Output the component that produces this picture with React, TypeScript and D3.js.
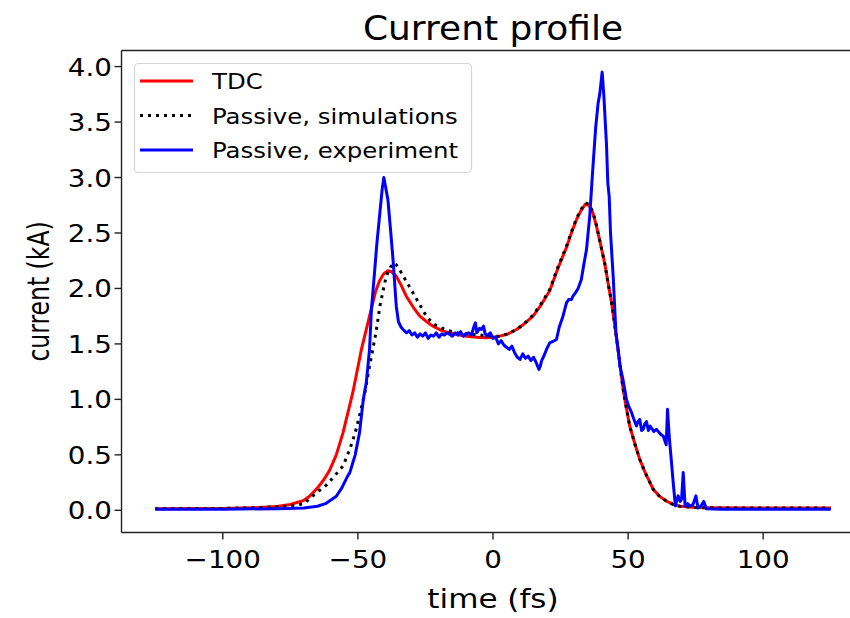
import React from 'react';
import {scaleLinear, line} from 'd3';

// TDC reconstruction
const tdcTime = [-125, -100, -90, -80, -75, -70, -67.9, -65, -62.5, -60.5, -58, -55.5, -53, -51.9, -48.7, -45.7, -43.5, -42, -40.5, -38.9, -37.5, -35.8, -34, -32.1, -29.5, -27.1, -24.5, -22.2, -19, -16, -12.5, -9.9, -6, -2.4, 0, 2.5, 5.5, 8.7, 11.5, 14.8, 17.5, 21, 24, 27.2, 29, 30.9, 32.5, 34.2, 35.5, 37, 38.3, 39.8, 41.4, 42.6, 43.9, 45, 46.3, 48.1, 49.3, 50.6, 52.5, 54.3, 56.5, 59.3, 61.5, 64.2, 66.5, 69.1, 75, 81.5, 100, 125];
const tdcCurrent = [0.015, 0.017, 0.022, 0.035, 0.052, 0.09, 0.127, 0.2, 0.28, 0.36, 0.5, 0.7, 0.95, 1.06, 1.45, 1.75, 1.97, 2.07, 2.13, 2.16, 2.15, 2.11, 2.03, 1.93, 1.83, 1.75, 1.7, 1.66, 1.62, 1.6, 1.58, 1.57, 1.56, 1.555, 1.56, 1.57, 1.59, 1.63, 1.68, 1.75, 1.84, 1.98, 2.18, 2.37, 2.5, 2.62, 2.7, 2.76, 2.75, 2.68, 2.56, 2.4, 2.22, 2.05, 1.87, 1.68, 1.45, 1.1, 0.93, 0.76, 0.6, 0.46, 0.33, 0.19, 0.13, 0.082, 0.055, 0.037, 0.025, 0.022, 0.02, 0.02];

// passive, simulations
const simTime = [-125, -100, -85, -75, -70, -65.4, -62, -59, -55.5, -53, -51, -49.4, -47.5, -45.7, -44.5, -43.2, -41.8, -40.5, -39.5, -38, -36.8, -36, -34.6, -32, -29.6, -27, -24.7, -22, -19.7, -16.5, -13.6, -10, -6.1, -3, 0, 2.5, 5.5, 8.7, 11.5, 14.8, 17.5, 21, 24, 27.2, 29, 30.9, 32.5, 34.2, 35.5, 37, 38.3, 39.8, 41.4, 42.6, 43.9, 45, 46.3, 48.1, 49.3, 50.6, 52.5, 54.3, 56.5, 59.3, 61.5, 64.2, 66.5, 69.1, 75, 81.5, 100, 125];
const simCurrent = [0.015, 0.017, 0.025, 0.04, 0.06, 0.158, 0.22, 0.3, 0.4, 0.55, 0.7, 0.85, 1.05, 1.3, 1.45, 1.62, 1.85, 2.0, 2.11, 2.19, 2.23, 2.22, 2.17, 2.06, 1.96, 1.85, 1.75, 1.68, 1.65, 1.62, 1.6, 1.59, 1.585, 1.575, 1.57, 1.57, 1.59, 1.63, 1.68, 1.76, 1.85, 1.99, 2.19, 2.38, 2.51, 2.63, 2.71, 2.77, 2.76, 2.69, 2.57, 2.4, 2.22, 2.05, 1.87, 1.68, 1.45, 1.1, 0.93, 0.76, 0.6, 0.46, 0.33, 0.19, 0.13, 0.082, 0.055, 0.037, 0.025, 0.022, 0.02, 0.02];

// passive, experiment
const expTime = [-125, -100, -80, -70, -65, -62, -58, -56, -54, -53, -51, -49.4, -48, -46.9, -45.7, -45, -44, -43, -42, -41, -40.4, -39.8, -38.9, -38, -37, -35.8, -35, -34, -33.3, -32, -31, -30, -29, -28, -27, -26, -25, -24, -23, -22, -21, -20, -19, -18, -17, -16, -15, -14, -13, -12, -11, -10, -9, -8, -7, -6.5, -6, -5, -4.3, -3.5, -3, -2.4, -1, 0, 1, 2, 3, 4, 5, 6, 7, 8, 9, 10, 11, 12, 13, 14, 15, 16, 17, 17.5, 18, 19, 19.8, 21, 22, 23.5, 24.5, 25.9, 27.2, 28, 29, 29.6, 30.5, 31.5, 32.7, 33.5, 34.6, 35.8, 37, 38, 38.9, 39.5, 40.4, 41, 42, 42.5, 43, 43.5, 44.5, 45.5, 46.3, 47, 48.1, 49.4, 50.2, 51.3, 52, 53.1, 53.7, 54.3, 55, 55.6, 56.2, 56.8, 57.5, 58.2, 58.7, 59.5, 60.5, 61.5, 62.3, 63, 63.7, 64.1, 64.6, 65.2, 66, 66.7, 67.5, 68.5, 69.3, 69.8, 70.4, 71.1, 72, 72.9, 74, 75.1, 75.9, 77, 78, 79, 85, 100, 125];
const expCurrent = [0.01, 0.01, 0.015, 0.02, 0.037, 0.06, 0.127, 0.2, 0.3, 0.34, 0.5, 0.7, 1.0, 1.15, 1.45, 1.81, 2.1, 2.4, 2.65, 2.9, 3.0, 2.92, 2.8, 2.55, 2.26, 1.84, 1.7, 1.65, 1.63, 1.6, 1.62, 1.58, 1.6, 1.56, 1.59, 1.57, 1.6, 1.55, 1.58, 1.57, 1.6, 1.56, 1.59, 1.58, 1.6, 1.585, 1.57, 1.6, 1.58, 1.61, 1.57, 1.59, 1.6, 1.58, 1.66, 1.69, 1.6, 1.64, 1.63, 1.66, 1.6, 1.57, 1.6, 1.55, 1.56, 1.5, 1.53, 1.49, 1.47, 1.45, 1.48, 1.42, 1.38, 1.36, 1.41, 1.37, 1.39, 1.35, 1.38, 1.33, 1.27, 1.3, 1.35, 1.4, 1.45, 1.51, 1.52, 1.54, 1.65, 1.75, 1.87, 1.9, 1.9, 1.93, 1.96, 2.0, 2.08, 2.2, 2.35, 2.65, 3.1, 3.45, 3.67, 3.75, 3.95, 3.75, 3.3, 2.95, 2.83, 2.5, 2.1, 1.6, 1.45, 1.3, 1.18, 1.0, 0.94, 0.88, 0.83, 0.76, 0.8, 0.82, 0.72, 0.73, 0.78, 0.8, 0.72, 0.76, 0.74, 0.71, 0.73, 0.7, 0.68, 0.67, 0.62, 0.59, 0.91, 0.67, 0.45, 0.25, 0.04, 0.13, 0.08, 0.1, 0.34, 0.04, 0.06, 0.04, 0.05, 0.13, 0.02, 0.04, 0.08, 0.013, 0.01, 0.01, 0.01];

const xTicks = [-100, -50, 0, 50, 100];
const yTicks = [0, 0.5, 1, 1.5, 2, 2.5, 3, 3.5, 4];
const legendLabels = ['TDC', 'Passive, simulations', 'Passive, experiment'];

const font = '"DejaVu Sans", sans-serif';
// the picture is a little wider than tall, so glyphs come out stretched sideways
const sx = 1.11;

const App = () => {
    let margin = {left: 121.5, top: 50.5, bottom: 532.5, right: 864.5};
    let x = scaleLinear().domain([-137.5, 137.5]).range([margin.left, margin.right]);
    let y = scaleLinear().domain([-0.2, 4.145]).range([margin.bottom, margin.top]);
    let l = line<number>().x(d => d[0]).y(d => d[1]);
    let path = (ts, vs) => l(ts.map((t, i) => [x(t), y(vs[i])]));
    let fmt = t => (t < 0 ? '\u2212' : '') + Math.abs(t);
    let midX = (margin.left + margin.right) / 2;

    let series = [
        {label: legendLabels[0], d: path(tdcTime, tdcCurrent), color: 'red', dash: null},
        {label: legendLabels[1], d: path(simTime, simCurrent), color: 'black', dash: '3,5'},
        {label: legendLabels[2], d: path(expTime, expCurrent), color: 'blue', dash: null},
    ];

    return (
        <svg width={850} height={618} style={{position: 'absolute', left: 0, top: 0, background: 'white'}}
             fontFamily={font}>
            <rect width={850} height={618} fill="white"/>
            <text transform={`translate(${midX},40) scale(1.09,1)`} textAnchor="middle" fontSize={33} fill="#000">Current profile</text>

            {series.map((s, i) =>
                <path key={i} d={s.d} fill="none" stroke={s.color} strokeWidth={3}
                      strokeDasharray={s.dash || undefined} strokeLinejoin="round"/>
            )}

            <g stroke="#222" strokeWidth={1.4} fill="none">
                <line x1={margin.left} y1={margin.top} x2={margin.right} y2={margin.top}/>
                <line x1={margin.left} y1={margin.bottom} x2={margin.right} y2={margin.bottom}/>
                <line x1={margin.left} y1={margin.top} x2={margin.left} y2={margin.bottom}/>
                <line x1={margin.right} y1={margin.top} x2={margin.right} y2={margin.bottom}/>
            </g>

            <g className="axis">
                {xTicks.map(t => <g key={t} transform={`translate(${x(t)},${margin.bottom})`}>
                    <line y2={7} stroke="#222" strokeWidth={1.4}/>
                    <text transform={`translate(0,35) scale(${sx},1)`} textAnchor="middle" fontSize={25} fill="#000">{fmt(t)}</text>
                </g>)}
                {yTicks.map(t => <g key={t} transform={`translate(${margin.left},${y(t)})`}>
                    <line x2={-7} stroke="#222" strokeWidth={1.4}/>
                    <text transform={`translate(-9.5,9) scale(${sx},1)`} textAnchor="end" fontSize={25} fill="#000">{t.toFixed(1)}</text>
                </g>)}
            </g>

            <text transform={`translate(${midX},608) scale(1.15,1)`} textAnchor="middle" fontSize={27} fill="#000">time (fs)</text>
            <text transform={`translate(49,${(margin.top + margin.bottom) / 2}) scale(1.28,1) rotate(-90)`} textAnchor="middle"
                  fontSize={23.5} fill="#000">current (kA)</text>

            <g className="legend">
                <rect x={134.5} y={63.5} width={337} height={109} rx={4} fill="white" fillOpacity={0.8}
                      stroke="#d6d6d6" strokeWidth={1.2}/>
                {series.map((s, i) => <g key={i} transform={`translate(140,${81 + i * 34.5})`}>
                    <line x1={0} x2={53} stroke={s.color} strokeWidth={3} strokeDasharray={s.dash || undefined}/>
                    <text transform={`translate(72,8) scale(${sx},1)`} fontSize={22} fill="#000">{s.label}</text>
                </g>)}
            </g>
        </svg>
    );
};

export default App;
